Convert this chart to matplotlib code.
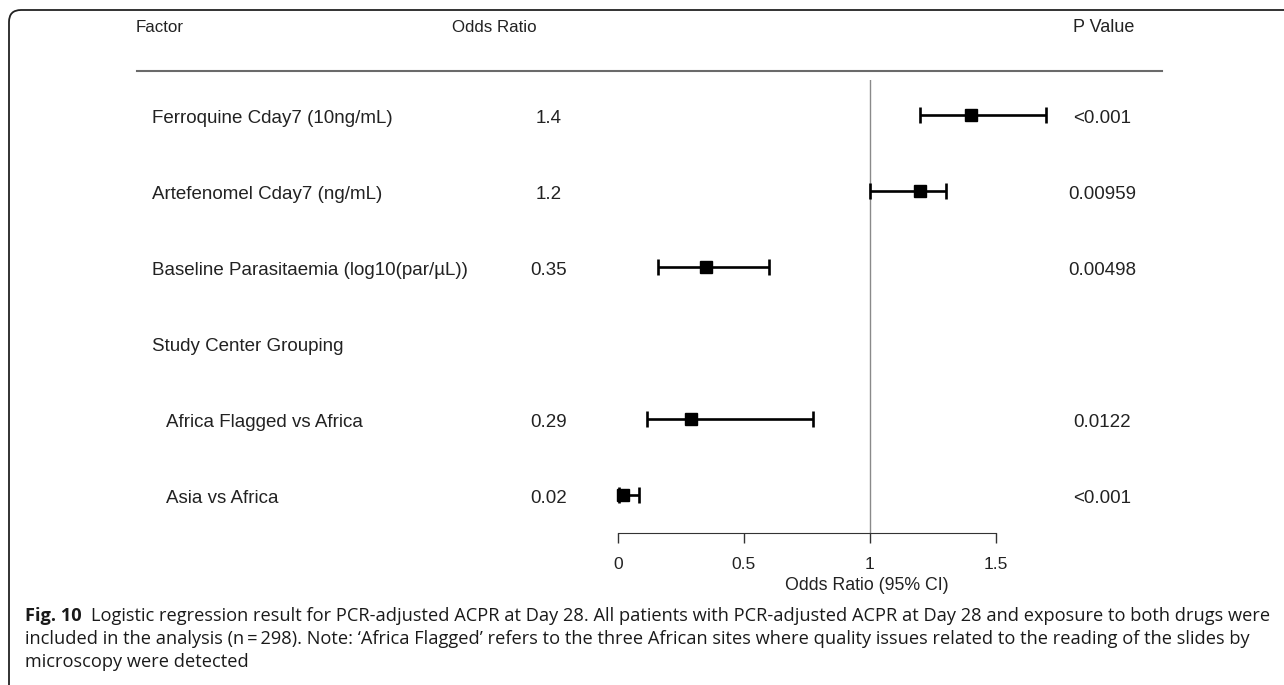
import numpy as np
import matplotlib
matplotlib.use("Agg")
import matplotlib.pyplot as plt
from matplotlib.lines import Line2D
from matplotlib.patches import FancyBboxPatch
from matplotlib.transforms import blended_transform_factory

# data
factors = [
    "Ferroquine Cday7 (10ng/mL)",
    "Artefenomel Cday7 (ng/mL)",
    "Baseline Parasitaemia (log10(par/\u00b5L))",
    "Study Center Grouping",
    "Africa Flagged vs Africa",
    "Asia vs Africa",
]
indented = [False, False, False, False, True, True]
or_labels = ["1.4", "1.2", "0.35", "", "0.29", "0.02"]
or_values = np.array([1.40, 1.20, 0.35, np.nan, 0.29, 0.02])
ci_low = np.array([1.20, 1.00, 0.16, np.nan, 0.115, 0.003])
ci_high = np.array([1.70, 1.30, 0.60, np.nan, 0.775, 0.085])
p_values = ["<0.001", "0.00959", "0.00498", "", "0.0122", "<0.001"]
ticks = [0, 0.5, 1, 1.5]
tick_labels = ["0", "0.5", "1", "1.5"]

caption_bold = "Fig. 10"
caption_lines = [
    "Logistic regression result for PCR-adjusted ACPR at Day 28. All patients with PCR-adjusted ACPR at Day 28 and exposure to both drugs were",
    "included in the analysis (n\u2009=\u2009298). Note: \u2018Africa Flagged\u2019 refers to the three African sites where quality issues related to the reading of the slides by",
    "microscopy were detected",
]

W, H = 1284, 685
plt.rcParams["font.family"] = ["Liberation Sans", "DejaVu Sans"]
fig = plt.figure(figsize=(W / 100, H / 100), dpi=100)
TXT = "#222222"
FS = 13.5


def fx(px):
    return px / W


def fy(py):
    return 1 - py / H


# main forest axes, x scale: 0 -> 618px, 1 unit = 252px
ax = fig.add_axes([fx(560), fy(533), fx(1060) - fx(560), fy(80) - fy(533)])
ax.set_xlim((560 - 618) / 252, (1060 - 618) / 252)
ax.set_ylim(5.5, -0.46)

rows = np.arange(len(factors))
ok = ~np.isnan(or_values)
ax.axvline(1, color="#8a8a8a", lw=1, zorder=0)
ax.errorbar(or_values[ok], rows[ok],
            xerr=[or_values[ok] - ci_low[ok], ci_high[ok] - or_values[ok]],
            fmt="s", color="black", ms=9, lw=1.9, capsize=6, capthick=1.9,
            clip_on=False)

for s in ["top", "right", "left"]:
    ax.spines[s].set_visible(False)
ax.spines["bottom"].set_bounds(0, 1.5)
ax.spines["bottom"].set_color("#333333")
ax.set_xticks(ticks)
ax.set_xticklabels(tick_labels)
ax.set_yticks([])
ax.tick_params(axis="x", length=7, width=1, pad=10, labelsize=12.5,
               color="#333333", labelcolor=TXT)
fig.text(fx(867), fy(586), "Odds Ratio (95% CI)", ha="center", va="center",
         fontsize=12.75, color=TXT)

# table columns (text sits a few px lower than the marker centre)
tr = blended_transform_factory(fig.transFigure, ax.transData)
dy = 0.04
for i, name in enumerate(factors):
    x = fx(166) if indented[i] else fx(152)
    ax.text(x, i + dy, name, transform=tr, ha="left", va="center",
            fontsize=FS, color=TXT)
    ax.text(fx(549), i + dy, or_labels[i], transform=tr, ha="center",
            va="center", fontsize=FS, color=TXT)
    ax.text(fx(1102), i + dy, p_values[i], transform=tr, ha="center",
            va="center", fontsize=FS, color=TXT)

# header
fig.text(fx(136), fy(28), "Factor", ha="left", va="center", fontsize=12.2, color=TXT)
fig.text(fx(452), fy(28), "Odds Ratio", ha="left", va="center", fontsize=12.2, color=TXT)
fig.text(fx(1104), fy(28), "P Value", ha="center", va="center", fontsize=13, color=TXT)
fig.add_artist(Line2D([fx(137), fx(1162)], [fy(71), fy(71)],
                      transform=fig.transFigure, color="#6a6a6a", lw=1.5))

# frame round the figure (only top and left visible)
frame = FancyBboxPatch((0.09, -0.3), 14.0, (H - 10) / 100 + 0.3,
                       boxstyle="round,pad=0,rounding_size=0.12",
                       transform=fig.dpi_scale_trans, fill=False,
                       edgecolor="#222222", lw=1.3)
fig.add_artist(frame)

# caption
cap_font = ["Open Sans", "DejaVu Sans"]
CFS = 13.15
fig.text(fx(25), fy(616), caption_bold, ha="left", va="center",
         fontsize=CFS, fontweight="bold", family=cap_font, color="#1a1a1a")
fig.text(fx(91), fy(616), caption_lines[0], ha="left", va="center",
         fontsize=CFS, family=cap_font, color="#1a1a1a")
fig.text(fx(25), fy(639), caption_lines[1], ha="left", va="center",
         fontsize=CFS, family=cap_font, color="#1a1a1a")
fig.text(fx(25), fy(662), caption_lines[2], ha="left", va="center",
         fontsize=CFS, family=cap_font, color="#1a1a1a")

fig.savefig("out.png", dpi=100)
